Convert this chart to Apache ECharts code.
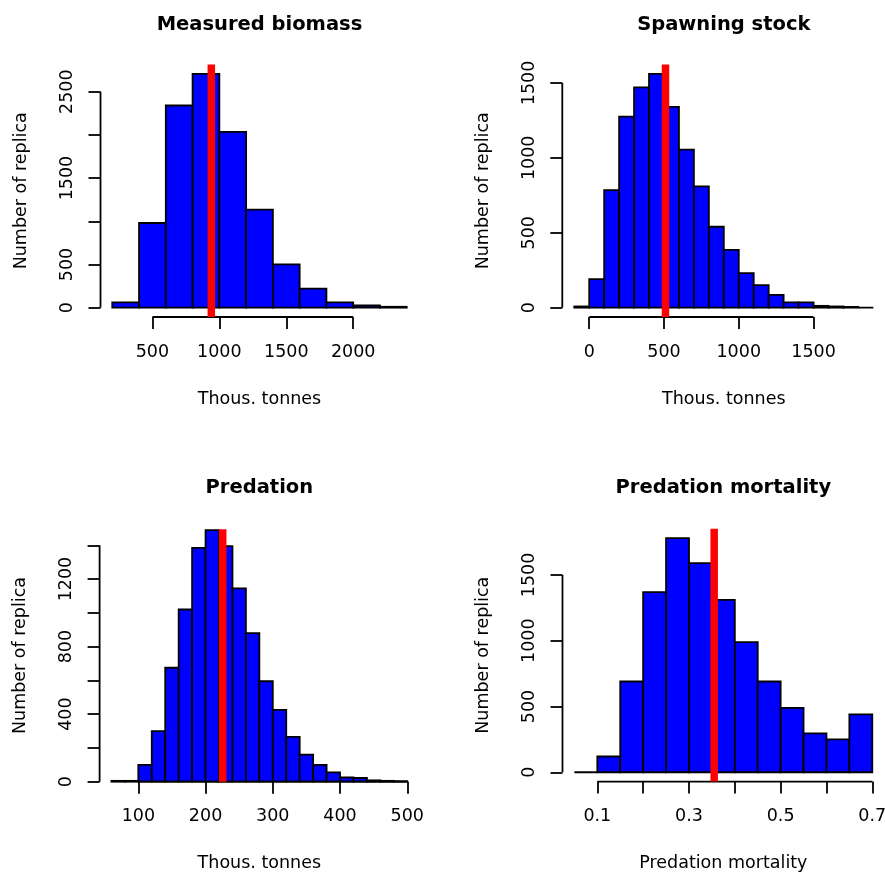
<!DOCTYPE html>
<html><head><meta charset="utf-8">
<script src="https://cdn.jsdelivr.net/npm/echarts@6/dist/echarts.min.js"></script>
<style>html,body{margin:0;padding:0;background:#fff}#c{width:885px;height:876px}</style>
</head><body><div id="c"></div>
<script>
// ---- Data ----
const biomassBreaks = [200,400,600,800,1000,1200,1400,1600,1800,2000,2200,2400];
const biomassCounts = [60,980,2340,2705,2035,1135,500,220,60,25,10];
const biomassRef = 940;
const biomassXTicks = [500,1000,1500,2000];
const biomassYTicks = [0,500,1000,1500,2000,2500];
const biomassYLabels = [0,500,1500,2500];

const spawnBreaks = [-100,0,100,200,300,400,500,600,700,800,900,1000,1100,1200,1300,1400,1500,1600,1700,1800,1900];
const spawnCounts = [8,190,785,1275,1470,1560,1340,1055,810,540,385,230,150,85,35,35,12,8,5,0];
const spawnRef = 510;
const spawnXTicks = [0,500,1000,1500];
const spawnYTicks = [0,500,1000,1500];
const spawnYLabels = [0,500,1000,1500];

const predBreaks = [60,80,100,120,140,160,180,200,220,240,260,280,300,320,340,360,380,400,420,440,460,480,500];
const predCounts = [5,5,100,300,675,1020,1385,1490,1395,1145,880,595,425,265,160,100,55,25,22,8,5,3];
const predRef = 225.5;
const predXTicks = [100,200,300,400,500];
const predYTicks = [0,200,400,600,800,1000,1200,1400];
const predYLabels = [0,400,800,1200];

const mortBreaks = [0.05,0.10,0.15,0.20,0.25,0.30,0.35,0.40,0.45,0.50,0.55,0.60,0.65,0.70];
const mortCounts = [0,120,690,1370,1780,1590,1310,990,690,490,295,250,440];
const mortRef = 0.355;
const mortXTicks = [0.1,0.2,0.3,0.4,0.5,0.6,0.7];
const mortXLabels = [0.1,0.3,0.5,0.7];
const mortYTicks = [0,500,1000,1500];
const mortYLabels = [0,500,1000,1500];

const titles = ['Measured biomass','Spawning stock','Predation','Predation mortality'];
const xNames = ['Thous. tonnes','Thous. tonnes','Thous. tonnes','Predation mortality'];
const yName = 'Number of replica';

// ---- Layout (plot regions) ----
const panels = [
  {breaks:biomassBreaks, counts:biomassCounts, ref:biomassRef, xTicks:biomassXTicks, xLabels:biomassXTicks, yTicks:biomassYTicks, yLabels:biomassYLabels,
   grid:{left:100.5, top:64.6, width:318, height:252.4}, x:[112,2488], y:[-108.2,2813.2], titleY:25},
  {breaks:spawnBreaks, counts:spawnCounts, ref:spawnRef, xTicks:spawnXTicks, xLabels:spawnXTicks, yTicks:spawnYTicks, yLabels:spawnYLabels,
   grid:{left:562.3, top:64.6, width:323, height:252.4}, x:[-180,1980], y:[-62.4,1622.4], titleY:25},
  {breaks:predBreaks, counts:predCounts, ref:predRef, xTicks:predXTicks, xLabels:predXTicks, yTicks:predYTicks, yLabels:predYLabels,
   grid:{left:99.6, top:529.3, width:319.5, height:252.4}, x:[42.4,517.6], y:[0,1495], titleY:487.5},
  {breaks:mortBreaks, counts:mortCounts, ref:mortRef, xTicks:mortXTicks, xLabels:mortXLabels, yTicks:mortYTicks, yLabels:mortYLabels,
   grid:{left:562.5, top:528.8, width:321.7, height:252.8}, x:[0.024,0.726], y:[-71,1851], titleY:487.5}
];

const FONT = 'DejaVu Sans';
const LW = 1.8;
const plain = v => String(v);
const grids = [], xAxes = [], yAxes = [], series = [], graphics = [];

function renderBar(params, api){
  const p0 = api.coord([api.value(0), api.value(2)]);
  const p1 = api.coord([api.value(1), 0]);
  return {type:'rect', shape:{x:p0[0], y:p0[1], width:p1[0]-p0[0], height:p1[1]-p0[1]},
          style:{fill:'#0000FF', stroke:'#000000', lineWidth:LW}};
}

panels.forEach((p, i) => {
  grids.push(Object.assign({outerBoundsMode:'none', containLabel:false}, p.grid));
  xAxes.push({type:'value', gridIndex:i, min:p.x[0], max:p.x[1], position:'bottom',
    name:xNames[i], nameLocation:'middle', nameGap:73,
    nameTextStyle:{fontSize:17.5, color:'#000', fontFamily:FONT},
    axisLine:{show:false, onZero:false}, splitLine:{show:false},
    axisTick:{show:true, customValues:p.xTicks, length:12, lineStyle:{color:'#000', width:LW}},
    axisLabel:{show:true, customValues:p.xLabels, formatter:plain, margin:26, fontSize:17.5, color:'#000', fontFamily:FONT}
  });
  yAxes.push({type:'value', gridIndex:i, min:p.y[0], max:p.y[1], position:'left',
    name:yName, nameLocation:'middle', nameGap:70, nameRotate:90,
    nameTextStyle:{fontSize:17.5, color:'#000', fontFamily:FONT},
    axisLine:{show:false, onZero:false}, splitLine:{show:false},
    axisTick:{show:true, customValues:p.yTicks, length:12, lineStyle:{color:'#000', width:LW}},
    axisLabel:{show:true, customValues:p.yLabels, formatter:plain, rotate:90, margin:24, fontSize:17.5, color:'#000', fontFamily:FONT}
  });
  const bars = p.counts.map((c, k) => [p.breaks[k], p.breaks[k+1], c]);
  series.push({type:'custom', xAxisIndex:i, yAxisIndex:i, renderItem:renderBar, data:bars,
    encode:{x:[0,1], y:2}, z:2, silent:true, clip:false});
  // axis lines spanning first to last tick (R style)
  series.push({type:'line', xAxisIndex:i, yAxisIndex:i, symbol:'none', clip:false, silent:true, z:5,
    data:[[p.xTicks[0], p.y[0]], [p.xTicks[p.xTicks.length-1], p.y[0]]], lineStyle:{color:'#000', width:LW}});
  series.push({type:'line', xAxisIndex:i, yAxisIndex:i, symbol:'none', clip:false, silent:true, z:5,
    data:[[p.x[0], p.yTicks[0]], [p.x[0], p.yTicks[p.yTicks.length-1]]], lineStyle:{color:'#000', width:LW}});
  // reference line
  series.push({type:'line', xAxisIndex:i, yAxisIndex:i, symbol:'none', clip:true, silent:true, z:10,
    data:[[p.ref, p.y[0]], [p.ref, p.y[1]]], lineStyle:{color:'#FF0000', width:7.5, cap:'butt'}});
  graphics.push({type:'text', x:p.grid.left + p.grid.width/2, y:p.titleY, silent:true,
    style:{text:titles[i], fill:'#000', fontSize:19.5, fontWeight:'bold', fontFamily:FONT,
           align:'center', verticalAlign:'middle', textAlign:'center', textVerticalAlign:'middle'}});
});

const chart = echarts.init(document.getElementById('c'), null, {renderer:'canvas'});
chart.setOption({
  animation:false,
  backgroundColor:'#ffffff',
  textStyle:{fontFamily:FONT},
  grid:grids, xAxis:xAxes, yAxis:yAxes, series:series, graphic:graphics
});
</script></body></html>
